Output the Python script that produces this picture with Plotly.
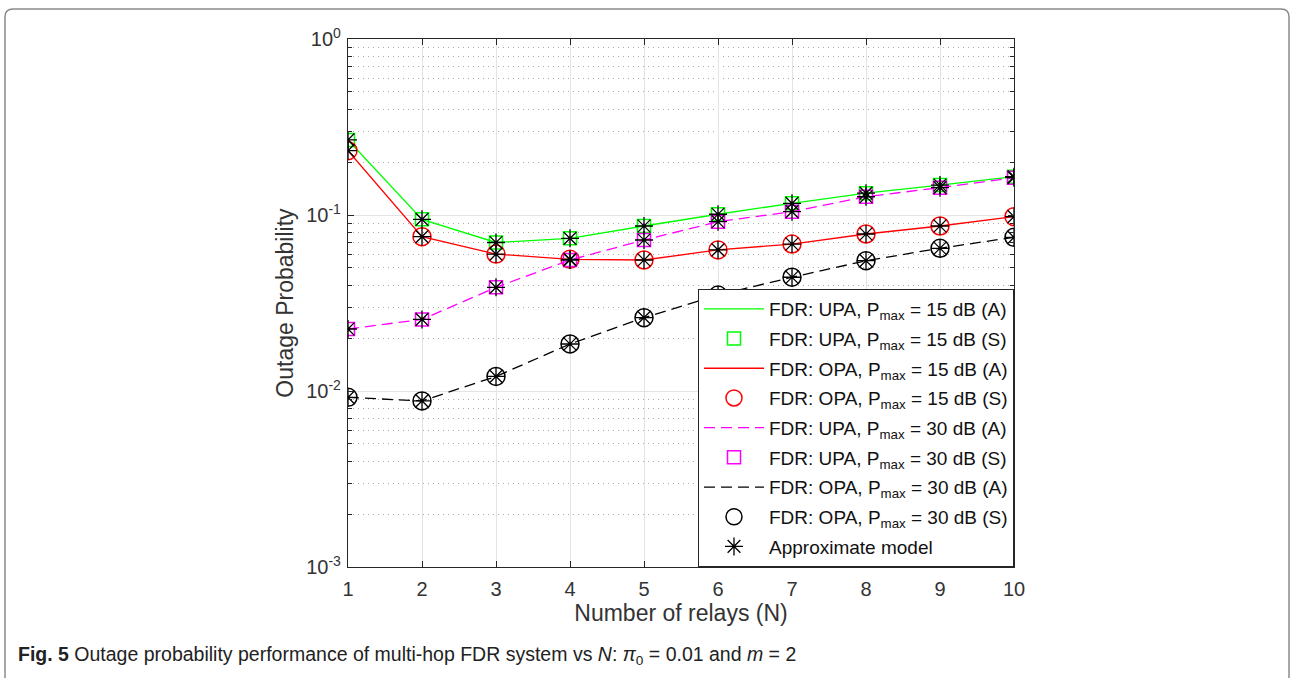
import plotly.graph_objects as go

# ---------------- data ----------------
relays = [1, 2, 3, 4, 5, 6, 7, 8, 9, 10]
upa_15 = [0.267, 0.0945, 0.0698, 0.0737, 0.0866, 0.101, 0.1165, 0.133, 0.148, 0.165]
opa_15 = [0.232, 0.0753, 0.0600, 0.0560, 0.0555, 0.0633, 0.0684, 0.078, 0.0866, 0.0978]
upa_30 = [0.0225, 0.0255, 0.0388, 0.0555, 0.0721, 0.0916, 0.1045, 0.127, 0.143, 0.163]
opa_30 = [0.0092, 0.00878, 0.0121, 0.0185, 0.0261, 0.0351, 0.0443, 0.055, 0.0647, 0.0747]

series_names = [
    "FDR: UPA, P<sub>max</sub> = 15 dB",
    "FDR: OPA, P<sub>max</sub> = 15 dB",
    "FDR: UPA, P<sub>max</sub> = 30 dB",
    "FDR: OPA, P<sub>max</sub> = 30 dB",
]
approx_name = "Approximate model"
y_tickvals = [1e-3, 1e-2, 1e-1, 1]
y_ticktext = ["10<sup>-3</sup>", "10<sup>-2</sup>", "10<sup>-1</sup>", "10<sup>0</sup>"]
x_title = "Number of relays (N)"
y_title = "Outage Probability"
caption = ("<b>Fig. 5</b> Outage probability performance of multi-hop FDR system vs "
           "<i>N</i>: <i>π</i><sub>0</sub> = 0.01 and <i>m</i> = 2")

# ---------------- figure ----------------
W, H = 1291, 678
L, R, T, B = 348, 1014, 39, 567  # plot area in pixels
FONT = "Liberation Sans, Arial"

def px2paper(x, y):
    return (x - L) / (R - L), 1 - (y - T) / (B - T)

styles = [
    dict(color="#00ff00", dash="solid", sym="square-open", size=13),
    dict(color="#ff0000", dash="solid", sym="circle-open", size=18),
    dict(color="#ff00ff", dash="11px,6px", sym="square-open", size=13),
    dict(color="#000000", dash="11px,6px", sym="circle-open", size=18),
]
data_sets = [upa_15, opa_15, upa_30, opa_30]

fig = go.Figure()
g = 0
for name, ys, st in zip(series_names, data_sets, styles):
    fig.add_trace(go.Scatter(
        x=relays, y=ys, mode="lines", name=name + " (A)", legendgroup=f"g{g}",
        line=dict(color=st["color"], width=1.3, dash=st["dash"]),
    ))
    g += 1
    fig.add_trace(go.Scatter(
        x=relays, y=ys, mode="markers", name=name + " (S)", legendgroup=f"g{g}",
        marker=dict(symbol=st["sym"], size=st["size"], color=st["color"],
                    line=dict(color=st["color"], width=1.5)),
    ))
    g += 1

ax_x, ax_y = [], []
for ys in data_sets:
    ax_x += relays
    ax_y += ys
fig.add_trace(go.Scatter(
    x=ax_x, y=ax_y, mode="markers", name=approx_name, legendgroup=f"g{g}",
    marker=dict(symbol="asterisk-open", size=15, color="black",
                line=dict(color="black", width=1.3)),
))

axis_common = dict(
    showline=True, linecolor="#262626", linewidth=1.2, mirror="ticks",
    ticks="inside", ticklen=6, tickcolor="#262626",
    showgrid=True, gridcolor="#e3e3e3", gridwidth=1,
    tickfont=dict(family=FONT, size=20, color="#333333"),
    zeroline=False,
)

fig.update_xaxes(
    range=[1, 10], tickmode="linear", tick0=1, dtick=1,
    ticklabelstandoff=4,
    title=dict(text=x_title, font=dict(family=FONT, size=23, color="#333333"),
               standoff=4),
    **axis_common,
)
fig.update_yaxes(
    type="log", range=[-3, 0], tickvals=y_tickvals, ticktext=y_ticktext,
    ticklabelstandoff=2,
    title=dict(text=y_title, font=dict(family=FONT, size=23, color="#333333"),
               standoff=6),
    minor=dict(tickvals=[k * 10 ** e for e in (-3, -2, -1) for k in range(2, 10)],
               showgrid=True, griddash="1px,4px", gridcolor="#a8a8a8", gridwidth=1,
               ticks="inside", ticklen=4, tickcolor="#262626"),
    **axis_common,
)

# outer frame (rounded top corners, bottom off-page)
fx0, fy0 = px2paper(5, 9)
fx1, fy1 = px2paper(1289, 700)
rx = 8 / (R - L)
ry = 8 / (B - T)
path = (f"M {fx0} {fy1} L {fx0} {fy0 - ry} Q {fx0} {fy0} {fx0 + rx} {fy0} "
        f"L {fx1 - rx} {fy0} Q {fx1} {fy0} {fx1} {fy0 - ry} L {fx1} {fy1}")
fig.add_shape(type="path", path=path, xref="paper", yref="paper",
              line=dict(color="#8a8a8a", width=1.5), layer="below")

cx, cy = px2paper(16, 655)
fig.add_annotation(text=caption, xref="paper", yref="paper", x=cx, y=cy,
                   xanchor="left", yanchor="middle", showarrow=False,
                   font=dict(family=FONT, size=19.5, color="#222222"))

fig.update_layout(
    width=W, height=H,
    margin=dict(l=L, r=W - R, t=T, b=H - B, pad=0),
    paper_bgcolor="white", plot_bgcolor="white",
    showlegend=True,
    legend=dict(x=1, y=0, xanchor="right", yanchor="bottom",
                bgcolor="white", bordercolor="#262626", borderwidth=1,
                font=dict(family=FONT, size=19, color="#111111"),
                itemwidth=60, tracegroupgap=2),
)

fig.write_html("out.html")
